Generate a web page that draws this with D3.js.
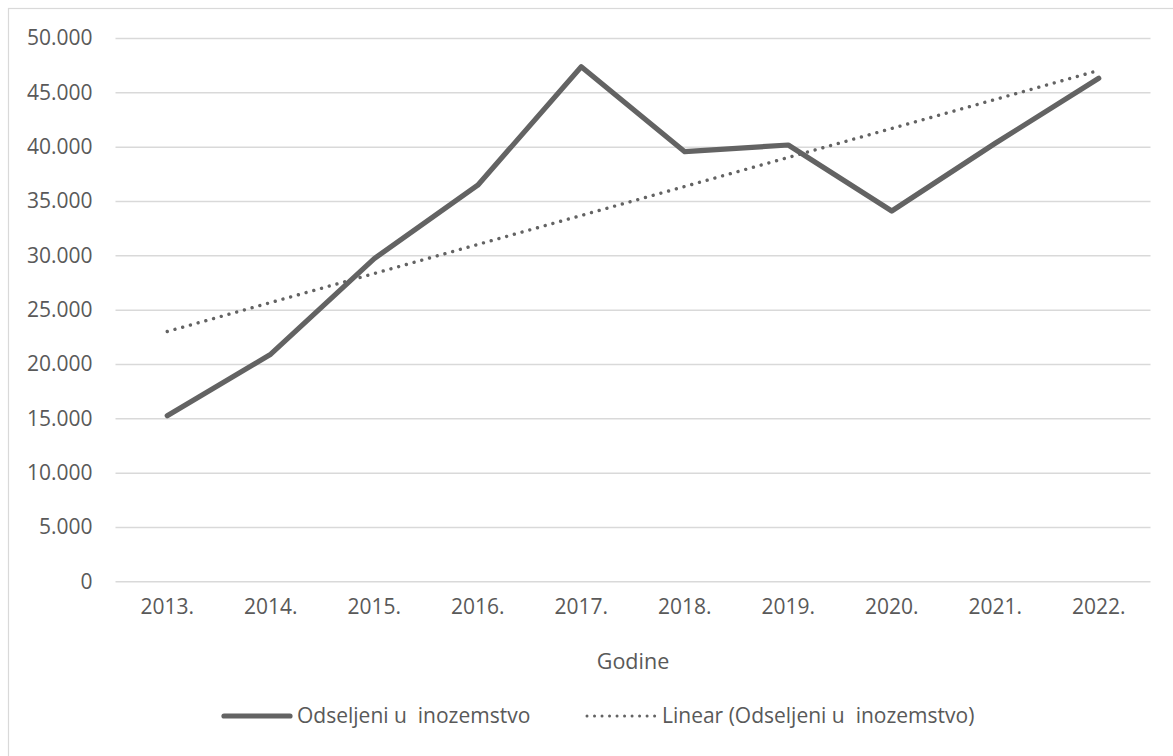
<!DOCTYPE html>
<html>
<head>
<meta charset="utf-8">
<script src="https://cdn.jsdelivr.net/npm/d3@7"></script>
<style>
  html, body { margin: 0; padding: 0; background: #fff; }
  svg { display: block; }
  text { font-family: "Open Sans", sans-serif; fill: #595959; white-space: pre; }
</style>
</head>
<body>
<svg id="chart" width="1173" height="756"></svg>
<script>
// ---- data ----
const years = ["2013.", "2014.", "2015.", "2016.", "2017.", "2018.", "2019.", "2020.", "2021.", "2022."];
const emigrated = [15240, 20900, 29700, 36450, 47360, 39540, 40150, 34080, 40310, 46290];
const yTicks = [0, 5000, 10000, 15000, 20000, 25000, 30000, 35000, 40000, 45000, 50000];
const seriesName = "Odseljeni u  inozemstvo";
const trendName = "Linear (Odseljeni u  inozemstvo)";
const xTitle = "Godine";

// ---- layout ----
const plot = { left: 115.5, right: 1150.5, top: 38, bottom: 581.3 };
const svg = d3.select("#chart");

// outer chart border (extends past the visible area on right/bottom)
svg.append("rect")
  .attr("x", 8.5).attr("y", 8.5).attr("width", 1175).attr("height", 770)
  .attr("fill", "#fff").attr("stroke", "#d9d9d9").attr("stroke-width", 1.2);

const x = d3.scaleBand().domain(years).range([plot.left, plot.right]).padding(0);
const y = d3.scaleLinear().domain([0, 50000]).range([plot.bottom, plot.top]);
const cx = d => x(d) + x.bandwidth() / 2;

const loc = d3.formatLocale({ decimal: ",", thousands: ".", grouping: [3], currency: ["", ""] });
const fmt = loc.format(",.0f");

// gridlines + y labels via axis
const yAxis = d3.axisLeft(y).tickValues(yTicks).tickFormat(fmt)
  .tickSize(-(plot.right - plot.left)).tickPadding(23);
const gy = svg.append("g").attr("transform", `translate(${plot.left},0)`).call(yAxis);
gy.select(".domain").remove();
gy.selectAll(".tick line").attr("stroke", "#d9d9d9").attr("stroke-width", 1.5);
gy.selectAll(".tick text").attr("font-family", "Open Sans").attr("font-size", 21)
  .attr("fill", "#595959");

// x labels via axis
const xAxis = d3.axisBottom(x).tickSize(0).tickPadding(18);
const gx = svg.append("g").attr("transform", `translate(0,${plot.bottom})`).call(xAxis);
gx.select(".domain").remove();
gx.selectAll(".tick text").attr("font-family", "Open Sans").attr("font-size", 21)
  .attr("fill", "#595959");

// axis title
svg.append("text").attr("x", (plot.left + plot.right) / 2).attr("y", 669)
  .attr("text-anchor", "middle").attr("font-size", 21.5).text(xTitle);

// data line
const pts = years.map((yr, i) => ({ yr, v: emigrated[i] }));
const line = d3.line().x(d => cx(d.yr)).y(d => y(d.v));
svg.append("path").datum(pts).attr("d", line)
  .attr("fill", "none").attr("stroke", "#636363").attr("stroke-width", 5.2)
  .attr("stroke-linejoin", "round").attr("stroke-linecap", "round");

// linear trendline (least squares fit of the series, as the chart's "Linear" trendline)
const n = emigrated.length;
const mx = d3.mean(d3.range(n)), my = d3.mean(emigrated);
const slope = d3.sum(d3.range(n), i => (i - mx) * (emigrated[i] - my)) / d3.sum(d3.range(n), i => (i - mx) ** 2);
const icpt = my - slope * mx;
const trend = [{ yr: years[0], v: icpt }, { yr: years[n - 1], v: icpt + slope * (n - 1) }];
svg.append("path").datum(trend).attr("d", line)
  .attr("fill", "none").attr("stroke", "#636363").attr("stroke-width", 3.4)
  .attr("stroke-dasharray", "0.01 8").attr("stroke-linecap", "round");

// legend
const ly = 716;
const lg = svg.append("g");
lg.append("line").attr("x1", 224).attr("x2", 290).attr("y1", ly).attr("y2", ly)
  .attr("stroke", "#636363").attr("stroke-width", 5.2).attr("stroke-linecap", "round");
lg.append("text").attr("x", 297).attr("y", ly).attr("dy", "0.35em")
  .attr("font-size", 21).text(seriesName);
lg.append("line").attr("x1", 587).attr("x2", 655).attr("y1", ly).attr("y2", ly)
  .attr("stroke", "#636363").attr("stroke-width", 3).attr("stroke-dasharray", "0.01 7.5")
  .attr("stroke-linecap", "round");
lg.append("text").attr("x", 662).attr("y", ly).attr("dy", "0.35em")
  .attr("font-size", 21).text(trendName);
</script>
</body>
</html>
